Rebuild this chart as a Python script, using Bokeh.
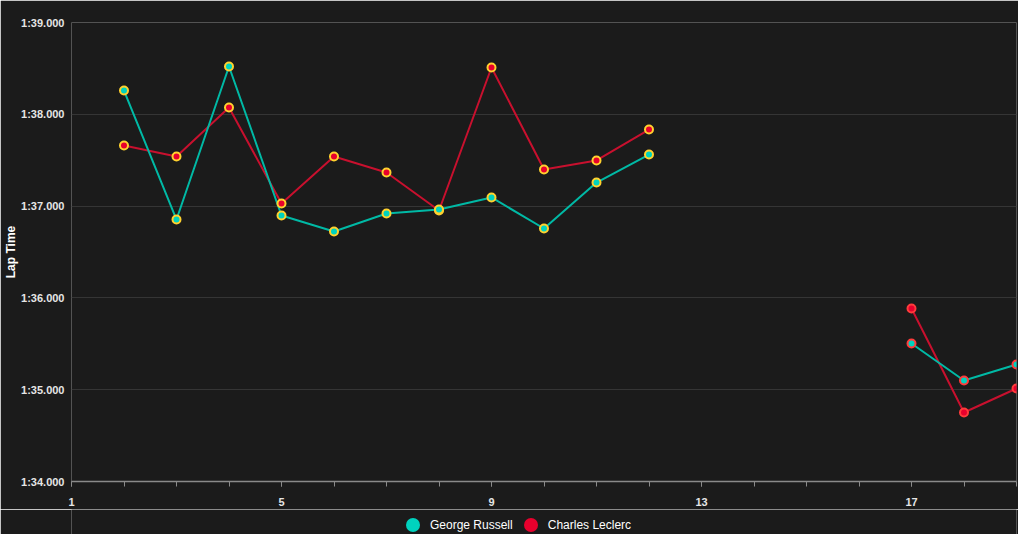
from bokeh.plotting import figure
from bokeh.layouts import column
from bokeh.models import (ColumnDataSource, Range1d, FixedTicker, CustomJSTickFormatter,
                          Legend, LegendItem)
from bokeh.transform import factor_cmap
from bokeh.embed import file_html
from bokeh.resources import INLINE

# ---- data (lap times in seconds) ----
laps = [2, 3, 4, 5, 6, 7, 8, 9, 10, 11, 12, 13, 14, 15, 16, 17, 18, 19]
russell = [98.259, 96.854, 98.521, 96.898, 96.723, 96.919, 96.963, 97.094, 96.756,
           97.257, 97.562, None, None, None, None, 95.503, 95.100, 95.275]
leclerc = [97.660, 97.540, 98.074, 97.028, 97.540, 97.366, 96.952, 98.510, 97.399,
           97.497, 97.834, None, None, None, None, 95.885, 94.752, 95.013]
compound = ["MEDIUM"] * 11 + [None] * 4 + ["SOFT"] * 3
drivers = ["George Russell", "Charles Leclerc"]
x_ticks = [1, 5, 9, 13, 17]
y_ticks = [94, 95, 96, 97, 98, 99]

BG = "#1b1b1b"
TEAL = "#00D2BE"
RED = "#E8002D"
compound_names = ["MEDIUM", "SOFT"]
compound_colors = ["#FFD12E", "#FF3B3B"]
FONT = "Liberation Sans"

def to_arr(vals):
    return [float("nan") if v is None else v for v in vals]

src = ColumnDataSource(dict(
    lap=laps,
    russell=to_arr(russell),
    leclerc=to_arr(leclerc),
    compound=[c if c is not None else "NONE" for c in compound],
))

p = figure(width=1018, height=509, output_backend="svg", toolbar_location=None,
           x_range=Range1d(1, 19), y_range=Range1d(94, 99),
           background_fill_color=BG, border_fill_color=BG,
           min_border_left=71, min_border_right=2, min_border_top=22, min_border_bottom=28)
p.outline_line_color = None

outline_map = factor_cmap("compound", palette=compound_colors, factors=compound_names)

# lines
p.line("lap", "leclerc", source=src, line_color="#C8102E", line_width=2)
p.line("lap", "russell", source=src, line_color="#00B9A5", line_width=2)
# markers
p.scatter("lap", "leclerc", source=src, size=8, fill_color=RED,
          line_color=outline_map, line_width=2)
p.scatter("lap", "russell", source=src, size=8, fill_color=TEAL,
          line_color=outline_map, line_width=2)

# x axis
p.xaxis.ticker = FixedTicker(ticks=x_ticks, minor_ticks=list(range(1, 20)))
p.xaxis.axis_line_color = "#8a8a8a"
p.xaxis.axis_line_width = 1.5
p.xaxis.major_tick_line_color = "#8a8a8a"
p.xaxis.minor_tick_line_color = "#8a8a8a"
p.xaxis.major_tick_in = 0
p.xaxis.major_tick_out = 5
p.xaxis.minor_tick_in = 0
p.xaxis.minor_tick_out = 5
p.xaxis.major_label_text_color = "#e6e6e6"
p.xaxis.major_label_text_font = FONT
p.xaxis.major_label_text_font_size = "11px"
p.xaxis.major_label_text_font_style = "bold"
p.xaxis.major_label_standoff = 11
p.xgrid.grid_line_color = None

# y axis
p.yaxis.ticker = FixedTicker(ticks=y_ticks, minor_ticks=[])
p.yaxis.formatter = CustomJSTickFormatter(code="""
const m = Math.floor(tick / 60);
const s = tick - m * 60;
return m + ':' + (s < 10 ? '0' : '') + s.toFixed(3);
""")
p.yaxis.axis_line_color = None
p.yaxis.major_tick_line_color = None
p.yaxis.minor_tick_line_color = None
p.yaxis.major_label_text_color = "#e6e6e6"
p.yaxis.major_label_text_font = FONT
p.yaxis.major_label_text_font_size = "11px"
p.yaxis.major_label_text_font_style = "bold"
p.yaxis.major_label_standoff = 1
p.yaxis.axis_label = "Lap Time"
p.yaxis.axis_label_text_color = "#ffffff"
p.yaxis.axis_label_text_font = FONT
p.yaxis.axis_label_text_font_size = "12px"
p.yaxis.axis_label_text_font_style = "bold"
p.yaxis.axis_label_standoff = 0
p.ygrid.ticker = FixedTicker(ticks=y_ticks)
p.ygrid.grid_line_color = "#353535"
p.ygrid.grid_line_width = 1

# ---- legend strip (separate small figure) ----
leg = figure(width=1018, height=25, output_backend="svg", toolbar_location=None,
             x_range=Range1d(0, 1), y_range=Range1d(0, 1),
             x_axis_type=None, y_axis_type=None,
             background_fill_color=BG, border_fill_color=BG,
             min_border_left=0, min_border_right=0, min_border_top=0, min_border_bottom=0)
leg.outline_line_color = None
leg.xgrid.grid_line_color = None
leg.ygrid.grid_line_color = None
dummy = ColumnDataSource(dict(x=[float("nan")], y=[float("nan")]))
r_leg = leg.scatter("x", "y", source=dummy, size=14, fill_color=TEAL, line_color=None)
l_leg = leg.scatter("x", "y", source=dummy, size=14, fill_color=RED, line_color=None)
legend = Legend(items=[LegendItem(label=drivers[0], renderers=[r_leg]),
                       LegendItem(label=drivers[1], renderers=[l_leg])],
                orientation="horizontal", location=(324, -8),
                background_fill_alpha=0, border_line_color=None,
                label_text_color="#ffffff", label_text_font=FONT, label_text_font_size="12px",
                glyph_width=35, glyph_height=35, padding=0, margin=0, spacing=-4,
                label_standoff=-8)
leg.add_layout(legend, "center")

layout = column(p, leg, spacing=0)

html = file_html(layout, INLINE)
html = html.replace("<body>", '<body style="background:#1b1b1b">', 1)
open("out.html", "w").write(html)
